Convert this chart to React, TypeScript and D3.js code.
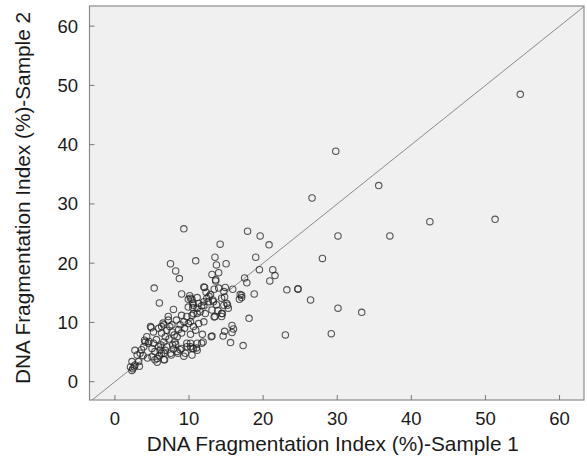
import React from "react";
import * as d3 from "d3";

// DNA Fragmentation Index (%) – Sample 1 (x) and Sample 2 (y)
const sample1: number[] = [
  54.7, 29.8, 35.6, 26.6, 42.5, 51.3, 30.1, 37.1, 28.0,
  9.3, 17.9, 19.6, 20.8, 14.2, 10.9, 7.5, 8.2, 8.7,
  13.5, 13.7, 15.0, 13.1, 14.0, 13.6, 13.6,
  19.0, 19.5, 21.3, 21.6, 20.9, 17.5, 17.8,
  23.2, 24.7, 24.7, 26.4, 30.1, 33.3, 23.0, 29.2,
  18.8, 17.1, 16.8, 18.1, 17.3, 15.9, 15.6,
  15.8, 16.0, 15.8, 14.8, 14.6, 13.1, 13.0, 11.8, 11.9, 11.7,
  5.3, 6.0, 7.9, 9.0, 9.3, 5.7, 6.7,
  2.3, 2.6, 3.3, 2.4,
  9.9, 11.1, 9.0, 9.7, 10.4, 9.3, 9.9, 7.2, 6.6, 4.8, 5.2, 5.9, 6.3, 7.0, 7.7, 8.4, 9.0, 8.1,
  4.1, 4.5, 3.9, 5.2, 5.9, 6.6, 7.0, 5.4, 6.1, 6.8, 7.5, 8.4, 9.0, 9.5, 10.2, 10.4, 9.7,
  2.7, 3.0, 3.4, 2.3, 2.7, 3.2, 2.1, 5.4, 6.6, 6.3, 4.3,
  10.6, 11.3, 12.0, 12.6, 10.6, 11.5, 12.2, 13.1, 13.5, 14.4, 14.7, 15.3,
  11.1, 10.2, 10.6, 11.1, 10.2, 10.6, 11.3, 12.0,
  10.1, 10.4, 11.1,
  14.9, 14.7, 14.0, 13.4, 12.1, 16.9, 17.1, 12.9, 12.4, 12.0, 10.2, 13.3, 14.4, 15.1,
  12.0, 12.3, 12.7, 13.2, 13.7, 14.5, 14.8, 15.2, 13.9, 13.4, 14.4, 11.7, 11.1, 10.5, 9.9, 10.5,
  10.9, 10.2, 9.7, 10.4, 11.0,
  4.0, 4.6, 3.6, 5.0, 6.2, 7.3, 7.8, 8.0, 8.6, 7.4, 6.8, 5.6, 6.0, 8.8, 9.4, 8.3, 7.9, 5.0, 4.4, 3.8,
  4.9, 6.3, 7.2, 6.5, 7.7,
  8.5, 8.8, 8.2, 7.6, 5.7, 6.6,
];

const sample2: number[] = [
  48.5, 38.9, 33.1, 31.0, 27.0, 27.4, 24.6, 24.6, 20.8,
  25.8, 25.4, 24.6, 23.1, 23.2, 20.4, 19.9, 18.7, 17.4,
  21.0, 19.7, 19.9, 18.1, 18.4, 17.2, 17.0,
  21.0, 18.9, 18.9, 17.9, 17.0, 17.5, 16.7,
  15.5, 15.6, 15.7, 13.8, 12.4, 11.7, 7.9, 8.1,
  14.8, 14.6, 13.9, 10.7, 6.1, 15.6, 6.6,
  9.5, 8.9, 8.3, 8.5, 7.7, 7.7, 7.6, 8.0, 6.7, 6.5,
  15.8, 13.3, 12.2, 14.8, 4.3, 3.3, 3.7,
  1.9, 2.5, 2.6, 2.2,
  12.6, 12.4, 11.2, 11.0, 11.2, 10.1, 9.8, 10.4, 9.6, 9.3, 8.4, 9.0, 8.2, 8.7, 8.4, 7.6, 8.2, 6.7,
  6.7, 6.5, 5.9, 6.5, 5.9, 6.7, 5.9, 5.1, 5.3, 5.3, 4.8, 5.1, 5.6, 4.8, 5.9, 4.5, 6.5,
  5.3, 4.5, 4.8, 3.4, 2.8, 3.4, 2.5, 3.7, 3.7, 4.8, 7.6,
  12.9, 13.2, 12.9, 13.5, 11.5, 11.8, 11.5, 12.1, 11.0, 11.5, 12.9, 12.4,
  6.5, 6.5, 5.6, 5.3, 10.1, 9.3, 9.8, 10.1,
  14.5, 13.9, 14.2,
  15.9, 15.2, 15.8, 15.6, 15.9, 14.7, 14.2, 14.7, 14.1, 13.5, 14.1, 13.5, 14.1, 13.2,
  16.0, 15.1, 14.4, 13.8, 13.0, 11.5, 14.3, 12.9, 12.0, 10.9, 11.0, 12.8, 11.5, 12.5, 13.9, 13.3,
  8.7, 8.0, 5.9, 5.6, 5.7,
  7.0, 6.8, 5.4, 5.6, 6.2, 7.2, 6.2, 7.9, 8.8, 9.3, 7.6, 7.1, 4.4, 9.6, 9.0, 10.4, 5.5, 4.2, 4.0, 4.4,
  9.1, 9.3, 11.0, 9.9, 9.6,
  4.8, 5.4, 6.3, 4.5, 3.9, 4.8,
];

const tickValues: number[] = [0, 10, 20, 30, 40, 50, 60];
const xTitle = "DNA Fragmentation Index (%)-Sample 1";
const yTitle = "DNA Fragmentation Index (%)-Sample 2";

const W = 587;
const H = 460;
const L = 89.5;
const R = 584;
const T = 6;
const B = 400;

export default function App() {
  const x = d3.scaleLinear().domain([-3.43, 63.3]).range([L, R]);
  const y = d3.scaleLinear().domain([-3.09, 63.4]).range([B, T]);
  const points = sample1.map((v, i) => ({ x: v, y: sample2[i] }));
  const diag = d3.line<number>().x((v) => x(v)).y((v) => y(v));
  const font = "'Liberation Sans', Arial, sans-serif";
  return (
    <svg
      width={W}
      height={H}
      style={{ position: "absolute", left: 0, top: 0, background: "#fff" }}
    >
      <defs>
        <clipPath id="plotclip">
          <rect x={L} y={T} width={R - L} height={B - T} />
        </clipPath>
      </defs>
      <rect x={L} y={T} width={R - L} height={B - T} fill="#f0f0f0" stroke="none" />
      <g clipPath="url(#plotclip)">
        <path d={diag([-4, 64]) || ""} stroke="#8a8a8a" strokeWidth={1} fill="none" />
        {points.map((p, i) => (
          <circle
            key={i}
            cx={x(p.x)}
            cy={y(p.y)}
            r={3.2}
            fill="none"
            stroke="#222"
            strokeOpacity={0.75}
            strokeWidth={1.1}
          />
        ))}
      </g>
      <rect x={L} y={T} width={R - L} height={B - T} fill="none" stroke="#8c8c8c" strokeWidth={1.2} />
      {tickValues.map((t) => (
        <g key={"x" + t}>
          <line x1={x(t)} x2={x(t)} y1={B} y2={B - 5} stroke="#777" strokeWidth={1} />
          <text x={x(t)} y={425} textAnchor="middle" fontFamily={font} fontSize={18.5} fill="#1a1a1a">
            {t}
          </text>
        </g>
      ))}
      {tickValues.map((t) => (
        <g key={"y" + t}>
          <line x1={L} x2={L + 5} y1={y(t)} y2={y(t)} stroke="#777" strokeWidth={1} />
          <text
            x={78}
            y={y(t)}
            dy="0.35em"
            textAnchor="end"
            fontFamily={font}
            fontSize={18.5}
            fill="#1a1a1a"
          >
            {t}
          </text>
        </g>
      ))}
      <text x={(L + R) / 2 - 4} y={451} textAnchor="middle" fontFamily={font} fontSize={20.8} fill="#1a1a1a">
        {xTitle}
      </text>
      <text
        transform={`translate(30,198) rotate(-90)`}
        textAnchor="middle"
        fontFamily={font}
        fontSize={20.8}
        fill="#1a1a1a"
      >
        {yTitle}
      </text>
    </svg>
  );
}
